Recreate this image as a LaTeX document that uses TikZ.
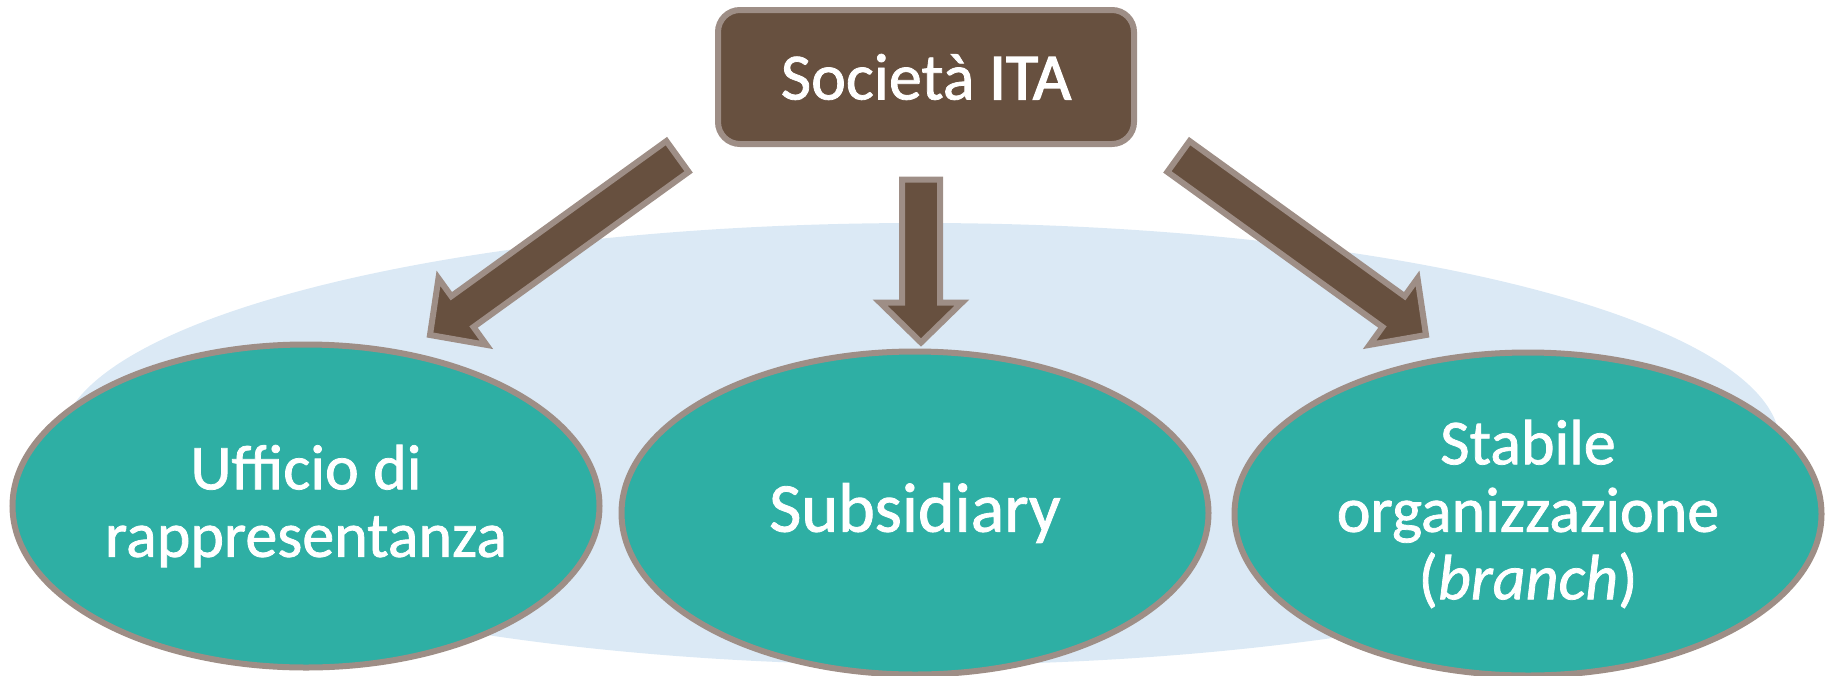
\documentclass[tikz,border=0pt]{standalone}
\usepackage{fontspec}
\setmainfont{Carlito}
\newfontfamily\heavyfont{Carlito}[FakeBold=1.2]
\usepackage{xcolor}
\usepackage{tikz}
\usetikzlibrary{shapes.geometric,calc}

\definecolor{brownbox}{HTML}{67503F}
\definecolor{greyedge}{HTML}{9E8E86}
\definecolor{tealfill}{HTML}{2EAFA4}
\definecolor{skyback}{HTML}{DBE9F5}

\tikzset{
  topbox/.style={rectangle, rounded corners=22pt, draw=greyedge, line width=6pt,
    fill=brownbox, text=white, minimum width=416pt, minimum height=134pt,
    font=\heavyfont\fontsize{66}{70}\selectfont},
  oval/.style={ellipse, draw=greyedge, line width=6pt, fill=tealfill, text=white,
    minimum width=587pt, minimum height=323pt, inner sep=0pt, align=center,
    font=\heavyfont\fontsize{64}{67.5}\selectfont},
  fatarrow/.style={draw=greyedge, line width=6pt, fill=brownbox, line join=miter},
}

\begin{document}
\begin{tikzpicture}[x=1pt,y=-1pt]
  \useasboundingbox (0,0) rectangle (1831,675);

  % pale background
  \fill[skyback] (920,444) ellipse [x radius=860, y radius=221];

  \node[oval] (ufficio) at (306,506) {Ufficio di\\rappresentanza};
  \node[oval, font=\heavyfont\fontsize{70}{74}\selectfont] (subsidiary) at (915,513) {Subsidiary};
  \node[oval] (branch) at (1528,514) {Stabile\\organizzazione\\(\textit{branch})};

  \node[topbox] (ita) at (926,77) {Società {\fontspec{Carlito}[FakeBold=2.2]ITA}};

  % arrow ends
  \coordinate (uf-a) at (677.5,156.5);
  \coordinate (uf-b) at (430,335);
  \coordinate (su-a) at (921,179.5);
  \coordinate (su-b) at (921,342.5);
  \coordinate (br-a) at (1178.5,156.5);
  \coordinate (br-b) at (1426,335);

  \foreach \s in {uf,su,br} {
    \coordinate (\s-h) at ($(\s-b)!40pt!(\s-a)$);
    \draw[fatarrow] ($(\s-a)!19pt!90:(\s-b)$) -- ($(\s-h)!19pt!90:(\s-b)$)
      -- ($(\s-h)!41pt!90:(\s-b)$) -- (\s-b) -- ($(\s-h)!41pt!-90:(\s-b)$)
      -- ($(\s-h)!19pt!-90:(\s-b)$) -- ($(\s-a)!19pt!-90:(\s-b)$) -- cycle;
  }
\end{tikzpicture}
\end{document}
